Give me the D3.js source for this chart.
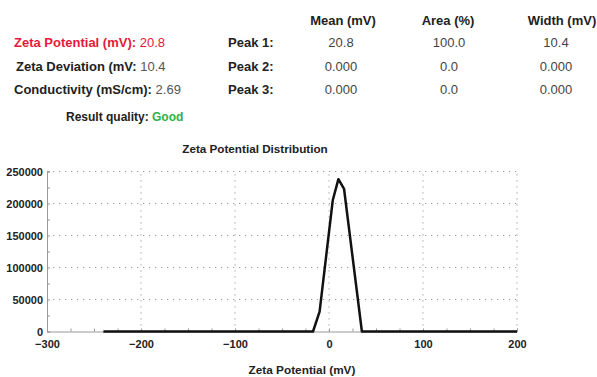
<!DOCTYPE html>
<html lang="en">
  <head>
    <meta charset="utf-8">
    <title>Zeta Potential Distribution</title>
    <style>
        body { margin: 0; background: #fff; }
        svg { display: block; font-family: "Liberation Sans", Arial, sans-serif; }
    </style>
    <script src="https://d3js.org/d3.v7.min.js"></script>
  </head>
  <body>
    <script>
    // summary table
    const summaryLabels = ["Zeta Potential (mV):", "Zeta Deviation (mV:", "Conductivity (mS/cm):"];
    const summaryValues = ["20.8", "10.4", "2.69"];
    const peakNames = ["Peak 1:", "Peak 2:", "Peak 3:"];
    const peakHeaders = ["Mean (mV)", "Area (%)", "Width (mV)"];
    const peakMean = ["20.8", "0.000", "0.000"];
    const peakArea = ["100.0", "0.0", "0.0"];
    const peakWidth = ["10.4", "0.000", "0.000"];
    const qualityLabel = "Result quality:";
    const qualityValue = "Good";

    // distribution curve
    const zetaX = [-240, -17, -10, 4, 10, 16, 35, 200];
    const counts = [0, 0, 31000, 205000, 238000, 223000, 0, 0];
    const xTicks = [-300, -200, -100, 0, 100, 200];
    const yTicks = [0, 50000, 100000, 150000, 200000, 250000];

    const W = 597, H = 377;
    const svg = d3.select("body").append("svg")
        .attr("width", W)
        .attr("height", H);

    // ---- table ----
    const rowY = [46.5, 70.5, 94];
    const tbl = svg.append("g").style("font-size", "13px");

    summaryLabels.forEach((lab, i) => {
        const t = tbl.append("text")
            .attr("x", i == 1 ? 16 : 14)
            .attr("y", rowY[i])
            .style("fill", i == 0 ? "#e8173c" : "#222");
        t.append("tspan").style("font-weight", "bold").text(lab + " ");
        t.append("tspan").style("fill", i == 0 ? "#e8173c" : "#555").text(summaryValues[i]);
    });

    const q = tbl.append("text").attr("x", 66).attr("y", 121)
        .style("font-size", "12px");
    q.append("tspan").style("font-weight", "bold").style("fill", "#222").text(qualityLabel + " ");
    q.append("tspan").style("font-weight", "bold").style("fill", "#2db24a").text(qualityValue);

    peakNames.forEach((p, i) => {
        tbl.append("text").attr("x", 228).attr("y", rowY[i])
            .style("font-weight", "bold").style("fill", "#222").text(p);
    });

    const colX = [343, 448, 562];
    const valX = [341, 449, 556];
    peakHeaders.forEach((h, i) => {
        tbl.append("text").attr("x", colX[i]).attr("y", 24.5)
            .attr("text-anchor", "middle")
            .style("font-weight", "bold").style("fill", "#222").text(h);
    });
    [peakMean, peakArea, peakWidth].forEach((col, j) => {
        col.forEach((v, i) => {
            tbl.append("text").attr("x", valX[j]).attr("y", rowY[i])
                .attr("text-anchor", "middle")
                .style("fill", "#444").text(v);
        });
    });

    // ---- chart ----
    const x = d3.scaleLinear().domain([-300, 200]).range([47, 517]);
    const y = d3.scaleLinear().domain([0, 250000]).range([331.5, 171.5]);

    svg.append("text")
        .attr("x", 255).attr("y", 152.5)
        .attr("text-anchor", "middle")
        .style("font-size", "11.7px").style("font-weight", "bold").style("fill", "#222")
        .text("Zeta Potential Distribution");

    // dotted grid
    const grid = svg.append("g")
        .attr("stroke", "#999")
        .attr("stroke-width", 1)
        .attr("stroke-dasharray", "1.2,4.8");
    grid.selectAll("line.h").data(yTicks.filter(d => d > 0)).join("line")
        .attr("x1", x(-300)).attr("x2", x(200))
        .attr("y1", d => y(d)).attr("y2", d => y(d));
    grid.selectAll("line.v").data(xTicks.filter(d => d > -300)).join("line")
        .attr("class", "v")
        .attr("x1", d => x(d)).attr("x2", d => x(d))
        .attr("y1", y(0)).attr("y2", y(250000));

    // axes
    const xAxis = svg.append("g")
        .attr("transform", `translate(0,${y(0)})`)
        .call(d3.axisBottom(x).tickValues(d3.range(-300, 201, 25)).tickSize(-3).tickFormat(""));
    xAxis.selectAll("line, path").attr("stroke", "#999");

    const xLabels = svg.append("g")
        .attr("transform", `translate(0,${y(0)})`)
        .call(d3.axisBottom(x).tickValues(xTicks).tickSize(0).tickPadding(8.5).tickFormat(d3.format("d")));
    xLabels.select(".domain").remove();
    xLabels.selectAll("text")
        .style("font-size", "11px").style("font-weight", "bold").style("fill", "#222")
        .style("font-family", "Liberation Sans, Arial, sans-serif");

    const yAxis = svg.append("g")
        .attr("transform", `translate(${x(-300)},0)`)
        .call(d3.axisLeft(y).tickValues(d3.range(0, 250001, 25000)).tickSize(-3).tickFormat(""));
    yAxis.selectAll("line, path").attr("stroke", "#999");

    const yLabels = svg.append("g")
        .attr("transform", `translate(${x(-300)},0)`)
        .call(d3.axisLeft(y).tickValues(yTicks).tickSize(0).tickPadding(4).tickFormat(d3.format("d")));
    yLabels.select(".domain").remove();
    yLabels.selectAll("text")
        .style("font-size", "11px").style("font-weight", "bold").style("fill", "#222")
        .style("font-family", "Liberation Sans, Arial, sans-serif");

    svg.append("text")
        .attr("x", 302).attr("y", 374)
        .attr("text-anchor", "middle")
        .style("font-size", "11.8px").style("font-weight", "bold").style("fill", "#222")
        .text("Zeta Potential (mV)");

    // curve
    const line = d3.line()
        .x((d, i) => x(zetaX[i]))
        .y(d => y(d));

    svg.append("path")
        .datum(counts)
        .attr("fill", "none")
        .attr("stroke", "#111")
        .attr("stroke-width", 2.5)
        .attr("stroke-linejoin", "round")
        .attr("d", line);
    </script>
  </body>
</html>
